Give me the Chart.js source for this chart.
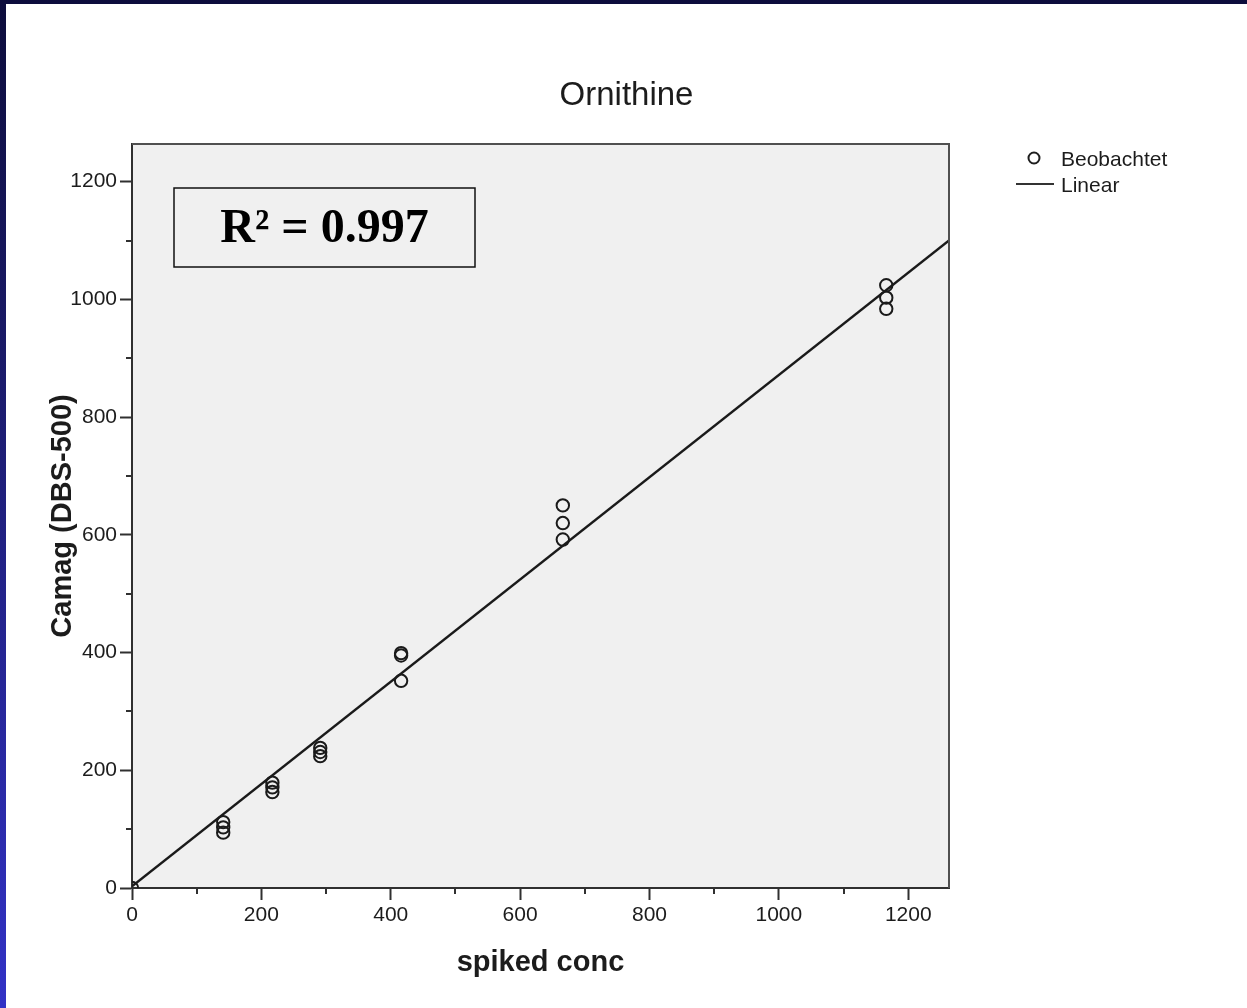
<!DOCTYPE html>
<html>
<head>
<meta charset="utf-8">
<title>Ornithine</title>
<script src="https://cdn.jsdelivr.net/npm/chart.js@4/dist/chart.umd.min.js"></script>
<style>
  html, body {
    margin: 0;
    padding: 0;
    width: 1247px;
    height: 1008px;
    overflow: hidden;
    background: linear-gradient(to bottom, #0d0d3c 0%, #1a1a68 35%, #3232c6 100%);
  }
  #wrap {
    position: absolute;
    left: 6px;
    top: 4px;
    width: 1241px;
    height: 1004px;
    background: #ffffff;
  }
  canvas { display: block; }
</style>
</head>
<body>
<div id="wrap"><canvas id="chart" width="1241" height="1004"></canvas></div>
<script>
// Chart text
const chartTitle = 'Ornithine';
const xAxisTitle = 'spiked conc';
const yAxisTitle = 'Camag (DBS-500)';
const legendLabels = ['Beobachtet', 'Linear'];
const rSquaredText = 'R\u00B2 = 0.997';

// Observed values: spiked concentration vs. Camag (DBS-500)
const spikedConc = [0, 141, 141, 141, 217, 217, 217, 291, 291, 291, 416, 416, 416, 666, 666, 666, 1166, 1166, 1166];
const camag      = [0, 112, 103, 94, 179, 171, 163, 238, 231, 224, 399, 395, 352, 650, 620, 592, 1024, 1003, 984];

// Linear fit, drawn between its two end points
const fitX = [0, 1263];
const fitY = [3, 1100];

// Axis ranges and tick marks
const xMax = 1263;
const yMax = 1264;
const majorTicks = [0, 200, 400, 600, 800, 1000, 1200];
const minorTicks = [100, 300, 500, 700, 900, 1100];

const INK = '#1c1c1c';
const AXIS = '#303030';
const PLOT_BG = '#f0f0f0';
const SANS = '"Liberation Sans", Arial, sans-serif';
const SERIF = '"Liberation Serif", "Times New Roman", serif';

const isMajor = v => majorTicks.includes(v);

// Plot panel background and frame
const panelPlugin = {
  id: 'panel',
  beforeDraw(chart) {
    const { ctx, chartArea: a } = chart;
    ctx.save();
    ctx.fillStyle = PLOT_BG;
    ctx.fillRect(a.left, a.top, a.right - a.left, a.bottom - a.top);
    ctx.restore();
  },
  afterDraw(chart) {
    const { ctx, chartArea: a } = chart;
    ctx.save();
    ctx.strokeStyle = '#505050';
    ctx.lineWidth = 2;
    ctx.beginPath();
    ctx.moveTo(a.left, a.top);
    ctx.lineTo(a.right, a.top);
    ctx.lineTo(a.right, a.bottom);
    ctx.stroke();
    ctx.restore();
  }
};

// Short unlabeled ticks between the labeled ones
const minorTickPlugin = {
  id: 'minorTicks',
  afterDraw(chart) {
    const { ctx, chartArea: a, scales } = chart;
    ctx.save();
    ctx.strokeStyle = AXIS;
    ctx.lineWidth = 2;
    ctx.beginPath();
    minorTicks.forEach(v => {
      const px = Math.round(scales.x.getPixelForValue(v));
      ctx.moveTo(px, a.bottom);
      ctx.lineTo(px, a.bottom + 6);
      const py = Math.round(scales.y.getPixelForValue(v));
      ctx.moveTo(a.left - 6, py);
      ctx.lineTo(a.left, py);
    });
    ctx.stroke();
    ctx.restore();
  }
};

// Boxed R-squared note in the upper left of the plot
const rSquaredPlugin = {
  id: 'rSquared',
  afterDatasetsDraw(chart) {
    const { ctx, chartArea: a } = chart;
    const left = a.left + 42, top = a.top + 44, w = 301, h = 79;
    ctx.save();
    ctx.fillStyle = PLOT_BG;
    ctx.fillRect(left, top, w, h);
    ctx.strokeStyle = '#111111';
    ctx.lineWidth = 1.5;
    ctx.strokeRect(left, top, w, h);
    ctx.fillStyle = '#000000';
    ctx.font = 'bold 48px ' + SERIF;
    ctx.textAlign = 'center';
    ctx.textBaseline = 'middle';
    ctx.fillText(rSquaredText, left + w / 2, top + h / 2 + 2);
    ctx.restore();
  }
};

// Legend to the right of the plot
const sideLegendPlugin = {
  id: 'sideLegend',
  afterDraw(chart) {
    const { ctx, chartArea: a } = chart;
    const ds = chart.data.datasets;
    const x0 = a.right + 67;
    const y0 = a.top + 14;
    ctx.save();
    ctx.font = '21px ' + SANS;
    ctx.fillStyle = INK;
    ctx.textAlign = 'left';
    ctx.textBaseline = 'middle';
    // observed values: open circle
    ctx.strokeStyle = '#1e1e1e';
    ctx.lineWidth = 2;
    ctx.beginPath();
    ctx.arc(x0 + 18, y0, 5.5, 0, Math.PI * 2);
    ctx.stroke();
    ctx.fillText(ds[0].label, x0 + 45, y0 + 2);
    // fitted line
    ctx.strokeStyle = '#333333';
    ctx.lineWidth = 2.2;
    ctx.beginPath();
    ctx.moveTo(x0, y0 + 26);
    ctx.lineTo(x0 + 38, y0 + 26);
    ctx.stroke();
    ctx.fillText(ds[1].label, x0 + 45, y0 + 28);
    ctx.restore();
  }
};

new Chart(document.getElementById('chart'), {
  type: 'scatter',
  data: {
    datasets: [
      {
        label: legendLabels[0],
        data: spikedConc.map((x, i) => ({ x, y: camag[i] })),
        pointStyle: 'circle',
        pointRadius: 6.2,
        pointBorderWidth: 2,
        pointBorderColor: '#1a1a1a',
        pointBackgroundColor: 'rgba(0,0,0,0)',
        clip: 0,
        order: 1
      },
      {
        label: legendLabels[1],
        data: fitX.map((x, i) => ({ x, y: fitY[i] })),
        showLine: true,
        borderColor: '#1a1a1a',
        borderWidth: 2.4,
        pointRadius: 0,
        clip: 0,
        order: 0
      }
    ]
  },
  options: {
    responsive: false,
    animation: false,
    devicePixelRatio: 1,
    events: [],
    layout: { padding: 0 },
    plugins: {
      legend: { display: false },
      tooltip: { enabled: false },
      title: {
        display: true,
        text: chartTitle,
        color: INK,
        font: { family: SANS, size: 33, weight: 'normal', lineHeight: 1.2 },
        padding: { top: 72.2, bottom: 28.2 }
      }
    },
    scales: {
      x: {
        type: 'linear',
        position: 'bottom',
        min: 0,
        max: xMax,
        afterFit: s => { s.height = 120; },
        border: { display: true, color: AXIS, width: 2 },
        grid: {
          display: true,
          drawOnChartArea: false,
          drawTicks: true,
          tickLength: 12,
          tickWidth: 2,
          tickColor: c => (c.tick && isMajor(c.tick.value)) ? AXIS : 'rgba(0,0,0,0)'
        },
        ticks: {
          stepSize: 100,
          autoSkip: false,
          maxRotation: 0,
          includeBounds: false,
          padding: 3,
          color: INK,
          font: { family: SANS, size: 21 },
          callback: v => isMajor(v) ? String(v) : ''
        },
        title: {
          display: true,
          text: xAxisTitle,
          color: INK,
          font: { family: SANS, size: 29, weight: 'bold', lineHeight: 1.2 },
          padding: { top: 0, bottom: 27.6 }
        }
      },
      y: {
        type: 'linear',
        position: 'left',
        min: 0,
        max: yMax,
        afterFit: s => { s.width = 126; },
        border: { display: true, color: AXIS, width: 2 },
        grid: {
          display: true,
          drawOnChartArea: false,
          drawTicks: true,
          tickLength: 12,
          tickWidth: 2,
          tickColor: c => (c.tick && isMajor(c.tick.value)) ? AXIS : 'rgba(0,0,0,0)'
        },
        ticks: {
          stepSize: 100,
          autoSkip: false,
          includeBounds: false,
          padding: 3,
          color: INK,
          font: { family: SANS, size: 21 },
          callback: v => isMajor(v) ? String(v) : ''
        },
        title: {
          display: true,
          text: yAxisTitle,
          color: INK,
          font: { family: SANS, size: 29, weight: 'bold', lineHeight: 1.2 },
          padding: { top: 39.6, bottom: 0 }
        }
      },
      side: {
        type: 'linear',
        position: 'right',
        display: true,
        min: 0,
        max: 1,
        afterFit: s => { s.width = 298; },
        grid: { display: false },
        border: { display: false },
        ticks: { display: false }
      }
    }
  },
  plugins: [panelPlugin, minorTickPlugin, rSquaredPlugin, sideLegendPlugin]
});
</script>
</body>
</html>
